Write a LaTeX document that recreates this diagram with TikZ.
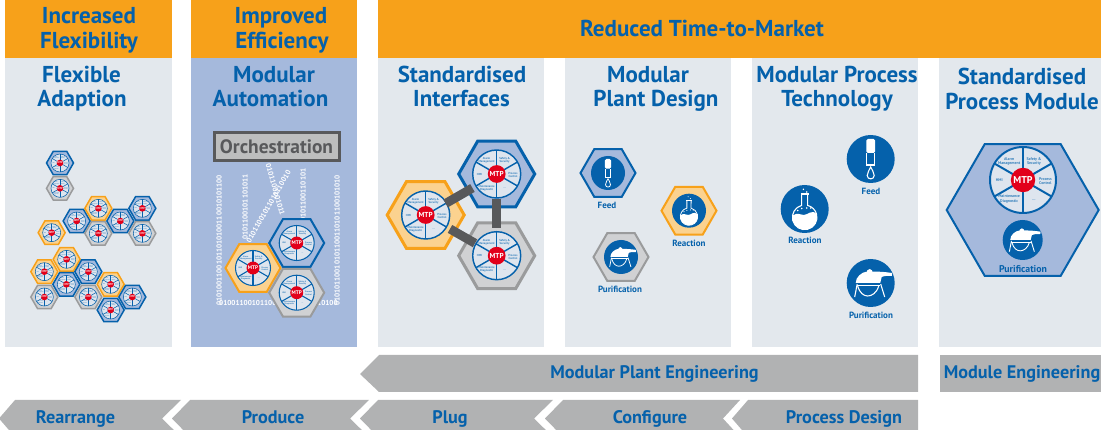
\documentclass[tikz,border=0pt]{standalone}
\usepackage{fontspec}
\setmainfont{PT Sans}
\usetikzlibrary{shapes.geometric}
\definecolor{orangeh}{HTML}{F7A11A}
\definecolor{orangef}{HTML}{FBD28F}
\definecolor{blueh}{HTML}{0561AB}
\definecolor{bluef}{HTML}{A5B9DC}
\definecolor{grayh}{HTML}{9A9B9C}
\definecolor{grayf}{HTML}{D0D1D3}
\definecolor{panelg}{HTML}{E3E8ED}
\definecolor{arrowg}{HTML}{B1B2B3}
\definecolor{barg}{HTML}{58595B}
\definecolor{mtpred}{HTML}{E2001A}
\definecolor{wheelf}{HTML}{DEE5EE}
\newcount\wc
\tikzset{
  hexa/.style={regular polygon,regular polygon sides=6,inner sep=0pt,outer sep=0pt,line join=miter},
  hexblue/.style={hexa,draw=blueh,fill=bluef},
  hexorange/.style={hexa,draw=orangeh,fill=orangef},
  hexgray/.style={hexa,draw=grayh,fill=grayf},
  title/.style={anchor=base,inner sep=0pt,text=blueh,font=\fontsize{23}{25}\selectfont\bfseries},
  arrowtext/.style={anchor=base,inner sep=0pt,text=blueh,font=\fontsize{18.2}{20}\selectfont\bfseries},
  smalltext/.style={anchor=base,inner sep=0pt,text=blueh,font=\fontsize{9}{10}\selectfont\bfseries},
  bits/.style={anchor=west,inner sep=0pt,text=white,font=\fontsize{7.2}{8}\selectfont\bfseries},
  connbar/.style={draw=barg,line width=9pt},
  panel/.style={fill=panelg},
  arrowbody/.style={fill=arrowg}
}
\newcommand{\mtpwheel}[3]{%
  \global\advance\wc by 1
  \begin{scope}[shift={(#1,#2)}]
    \pgfmathsetmacro{\rr}{#3}
    \pgfmathsetmacro{\fs}{.12*#3}
    \pgfmathsetmacro{\lsk}{.135*#3}
    \pgfmathsetmacro{\ms}{.3*#3}
    \pgfmathsetmacro{\lw}{.06*#3}
    \fill[wheelf] (0,0) circle (\rr);
    \foreach \a in {90,30,-30,-90,210,150}
      \draw[blueh,line width=\lw pt] (0,0) -- ({\rr*cos(\a)},{\rr*sin(\a)});
    \draw[blueh,line width=\lw pt] (0,0) circle (\rr);
    \fill[mtpred] (0,0) circle ({.37*\rr});
    \tikzset{wl/.style={inner sep=0pt,align=center,text=blueh!80!white,font=\fontsize{\fs}{\lsk}\selectfont\bfseries}}
    \node[wl,name=wa\the\wc] at ({-.42*\rr},{-.56*\rr}) {Alarm\\Management};
    \node[wl,name=wb\the\wc] at ({.33*\rr},{-.56*\rr}) {Safety \&\\Security};
    \node[wl,name=wc\the\wc] at ({.68*\rr},{.04*\rr}) {Process\\Control};
    \node[wl,name=wd\the\wc] at ({.33*\rr},{.6*\rr}) {\dots};
    \node[wl,name=we\the\wc] at ({-.42*\rr},{.58*\rr}) {Maintenance\\Diagnostic};
    \node[wl,name=wf\the\wc] at ({-.72*\rr},{0}) {HMI};
    \node[inner sep=0pt,text=white,font=\fontsize{\ms}{\ms}\selectfont\bfseries,name=wm\the\wc] at (0,0) {MTP};
  \end{scope}}
\newcommand{\feedicon}[3]{%
  \begin{scope}[shift={(#1,#2)},scale=#3/24]
    \pgfmathsetmacro{\lw}{.045*#3}
    \fill[blueh] (0,0) circle (24);
    \fill[white,rounded corners=1.5] (-4.3,-6) -- (-4.3,-20) -- (4.3,-20) -- (4.3,-6) -- cycle;
    \draw[white,line width=\lw pt] (-3.9,-6) -- (-3.9,6) -- (3.9,6) -- (3.9,-6);
    \draw[white,line width=\lw pt] (0,8) .. controls (1,11) and (3.5,13) .. (3.5,16.5) .. controls (3.5,21) and (-3.5,21) .. (-3.5,16.5) .. controls (-3.5,13) and (-1,11) .. (0,8) -- cycle;
  \end{scope}}
\newcommand{\flaskicon}[3]{%
  \begin{scope}[shift={(#1,#2)},scale=#3/24]
    \pgfmathsetmacro{\lw}{.045*#3}
    \fill[blueh] (0,0) circle (24);
    \draw[white,line width=\lw pt] (-3,-15) -- (-3,-3.6) arc (256:-76:12.3) -- (3,-15);
    \draw[white,line width=\lw pt] (-3.8,-15) -- (3.8,-15);
    \fill[white] (-12.3,8.3) arc (180:0:12.3) -- (12,5) .. controls (7,0) and (3,6) .. (-1,6) .. controls (-5,6) and (-7,3) .. (-12,6.5) -- cycle;
    \foreach \p/\q in {-1.3/-19.7,2/-17,-7/1.5,-3/-.5,2/-1,6/-1}
      \fill[white] (\p,\q) circle (.8);
  \end{scope}}
\newcommand{\kettleicon}[3]{%
  \begin{scope}[shift={(#1,#2)},scale=#3/24]
    \pgfmathsetmacro{\lw}{.045*#3}
    \fill[blueh] (0,0) circle (24);
    \fill[white] (-15,0) .. controls (-15,-6) and (-9,-11) .. (-3.5,-11.5) -- (-3.5,-12.5) -- (-1,-14) -- (1.5,-12.5) -- (1.5,-11.5) .. controls (8,-11.5) and (15,-11) .. (21.5,-10) -- (21,-7) .. controls (17,-7.5) and (13,-7) .. (11,-6) -- (9.5,0) -- cycle;
    \draw[white,line width=\lw pt] (-13,3) .. controls (-11,10) and (-7,13) .. (-3,13) .. controls (1,13) and (6,10) .. (8,3);
    \draw[white,line width=\lw pt] (-14,2.5) -- (9.5,2.5);
    \draw[white,line width=\lw pt] (-13.5,1) -- (-16,14);
    \draw[white,line width=\lw pt] (10,1) -- (14,14);
  \end{scope}}
\begin{document}
\begin{tikzpicture}[x=1pt,y=-1pt]
\useasboundingbox (0,0) rectangle (1101,430);
\clip (0,0) rectangle (1101,430);
% headers
\fill[orangeh] (5,0) rectangle (172,58);
\fill[orangeh] (191,0) rectangle (357,58);
\fill[orangeh] (378,0) rectangle (1101,58);
% panels
\fill[panel] (5,58) rectangle (172,347);
\fill[bluef] (191,58) rectangle (357,347);
\fill[panel] (378,58) rectangle (544,347);
\fill[panel] (565,58) rectangle (731,347);
\fill[panel] (752,58) rectangle (918,347);
\fill[panel] (939,58) rectangle (1101,347);
% header text
\node[title,name=h1a] at (89,24) {Increased};
\node[title,name=h1b] at (89,49) {Flexibility};
\node[title,name=h2a] at (281,24) {Improved};
\node[title,name=h2b] at (282,49) {Efficiency};
\node[title,name=h3] at (702,37) {Reduced Time-to-Market};
% panel titles
\node[title,name=t1a] at (81.5,83) {Flexible};
\node[title,name=t1b] at (82,107) {Adaption};
\node[title,name=t2a] at (274,83) {Modular};
\node[title,name=t2b] at (270.5,107) {Automation};
\node[title,name=t3a] at (462,83) {Standardised};
\node[title,name=t3b] at (461.5,107) {Interfaces};
\node[title,name=t4a] at (648,83) {Modular};
\node[title,name=t4b] at (656,107) {Plant Design};
\node[title,name=t5a] at (837,83) {Modular Process};
\node[title,name=t5b] at (837,107) {Technology};
\node[title,name=t6a] at (1022,85) {Standardised};
\node[title,name=t6b] at (1022,110) {Process Module};
% panel 1 small hexagons
\foreach \st/\x/\y [count=\i] in {hexblue/180/99,hexgray/180/175,hexorange/155/308,hexblue/230/273,hexorange/295/235,hexgray/295/310,hexblue/361/273,hexblue/427/235,hexgray/427/310,hexorange/200/388,hexorange/133/425,hexblue/265/425,hexblue/199/463,hexgray/133/501,hexgray/265/501,hexorange/332/463,hexblue/397/501,hexblue/332/540}{
  \node[\st,line width=1.5pt,minimum size=27pt,name=s\i] at ({\x/3},{130+\y/3}) {};
  \pgfmathsetmacro{\cxx}{\x/3}
  \pgfmathsetmacro{\cyy}{130+\y/3}
  \mtpwheel{\cxx}{\cyy}{9}
}
% panel 2 streams
\node[bits,rotate=90,name=b1] at (219,306) {01010011001011010100110010101100};
\node[bits,rotate=90,name=b2] at (245,240) {0101100101101011};
\node[bits,rotate=90,name=b3] at (303,222) {0101100110101};
\node[bits,rotate=90,name=b4] at (337,306) {01010110010101100110101100101010};
\node[bits,rotate=-74,name=b5] at (268,164) {0101100101011};
\node[bits,rotate=60,name=b6] at (248,242) {01011001011010110010};
\node[bits,name=b7] at (219,303) {01001100101100110010110010100};
% orchestration
\node[draw=barg,fill=arrowg!85!white,line width=3pt,minimum width=125pt,minimum height=28pt,inner sep=0pt,text=barg,font=\fontsize{19.4}{21}\selectfont\bfseries,name=orch] at (276.5,146.5) {Orchestration};
\node[hexorange,line width=2pt,minimum size=55pt,name=m1] at (253,268) {};
\mtpwheel{253}{268}{17.5}
\node[hexblue,line width=2pt,minimum size=55pt,name=m2] at (296.7,243) {};
\mtpwheel{296.7}{243}{17.5}
\node[hexgray,line width=2pt,minimum size=55pt,name=m3] at (296.7,292.7) {};
\mtpwheel{296.7}{292.7}{17.5}
% panel 3
\node[hexorange,line width=3pt,minimum size=77pt,name=p1] at (425.7,215) {};
\node[hexblue,line width=3pt,minimum size=76pt,name=p2] at (496.7,174) {};
\node[hexgray,line width=3pt,minimum size=76pt,name=p3] at (496.7,255.7) {};
\mtpwheel{425.7}{215}{24}
\mtpwheel{496.7}{174}{24}
\mtpwheel{496.7}{255.7}{24}
\draw[connbar,shorten <=23pt,shorten >=28pt] (p1.center) -- (p2.center);
\draw[connbar,shorten <=28pt,shorten >=25pt] (p1.center) -- (p3.center);
\draw[connbar,shorten <=25pt,shorten >=27.7pt] (p2.center) -- (p3.center);
% panel 4
\node[hexblue,line width=2pt,minimum size=55pt,name=f1] at (608,173) {};
\feedicon{608}{173}{17}
\node[smalltext,name=fl1] at (607,209) {Feed};
\node[hexorange,line width=2pt,minimum size=55pt,name=f2] at (689,210.7) {};
\flaskicon{689}{210.7}{17}
\node[smalltext,name=fl2] at (689,247) {Reaction};
\node[hexgray,line width=2pt,minimum size=55pt,name=f3] at (621,257) {};
\kettleicon{621}{257}{17}
\node[smalltext,name=fl3] at (620,293) {Purification};
% panel 5
\feedicon{870.7}{159}{24}
\node[smalltext,name=gl1] at (871,194.5) {Feed};
\flaskicon{804.7}{209}{24}
\node[smalltext,name=gl2] at (805,243.5) {Reaction};
\kettleicon{870.7}{283}{24}
\node[smalltext,name=gl3] at (871,318.5) {Purification};
% panel 6
\node[hexblue,line width=2pt,minimum size=152pt,name=big] at (1022.7,210) {};
\mtpwheel{1023}{180}{33}
\kettleicon{1022.7}{240}{20}
\node[smalltext,name=bl,font=\fontsize{9.8}{11}\selectfont\bfseries] at (1023,273) {Purification};
% arrows row 1
\fill[arrowbody] (360,374) -- (379,355) -- (918,355) -- (918,392) -- (379,392) -- cycle;
\fill[arrowbody] (940,355) rectangle (1101,392);
\node[arrowtext,name=a1] at (654.5,379) {Modular Plant Engineering};
\node[arrowtext,name=a2] at (1022,379) {Module Engineering};
% arrows row 2
\fill[arrowbody] (-1,418.5) -- (15,400) -- (181,400) -- (162,418.5) -- (181,437) -- (15,437) -- cycle;
\fill[arrowbody] (172,418.5) -- (190,400) -- (369,400) -- (350,418.5) -- (369,437) -- (190,437) -- cycle;
\fill[arrowbody] (360,418.5) -- (378,400) -- (553,400) -- (534,418.5) -- (553,437) -- (378,437) -- cycle;
\fill[arrowbody] (545,418.5) -- (563,400) -- (740,400) -- (723,418.5) -- (740,437) -- (563,437) -- cycle;
\fill[arrowbody] (732,418.5) -- (748,400) -- (918,400) -- (918,437) -- (748,437) -- cycle;
\node[arrowtext,name=r1] at (75.5,423) {Rearrange};
\node[arrowtext,name=r2] at (273,423) {Produce};
\node[arrowtext,name=r3] at (450,423) {Plug};
\node[arrowtext,name=r4] at (650,423) {Configure};
\node[arrowtext,name=r5] at (844,423) {Process Design};
\end{tikzpicture}
\end{document}
